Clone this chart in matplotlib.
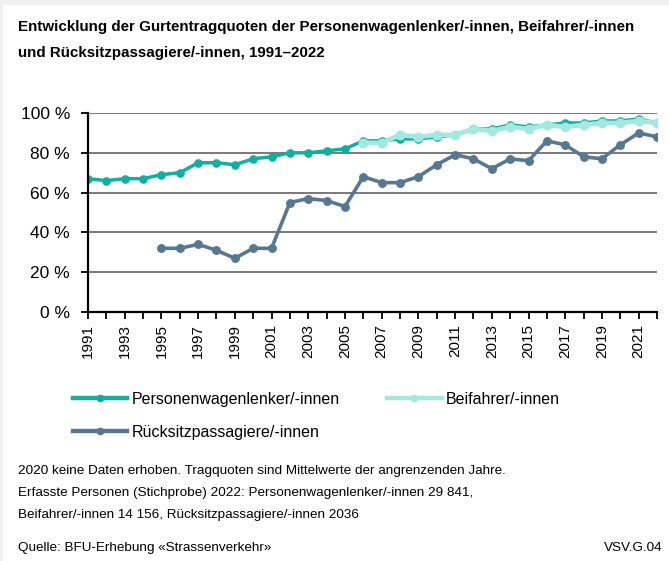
import matplotlib
matplotlib.use('Agg')
from matplotlib import pyplot as plt
from matplotlib import font_manager
from matplotlib.lines import Line2D
from matplotlib.patches import Rectangle

##########################################################################
#   Data
##########################################################################

years = list(range(1991, 2023))

driver = [67, 66, 67, 67, 69, 70, 75, 75, 74, 77, 78, 80, 80, 81, 82, 86,
          86, 87, 87, 88, 89, 92, 92, 94, 93, 94, 95, 95, 96, 96, 97, 95]

passenger_years = list(range(2006, 2023))
passenger = [85, 85, 89, 88, 89, 89, 92, 91, 93, 92, 94, 93, 94, 95, 95, 96, 95]

rear_years = list(range(1995, 2023))
rear = [32, 32, 34, 31, 27, 32, 32, 55, 57, 56, 53, 68, 65, 65, 68, 74,
        79, 77, 72, 77, 76, 86, 84, 78, 77, 84, 90, 88]

series_names = ['Personenwagenlenker/-innen', 'Beifahrer/-innen',
                'Rücksitzpassagiere/-innen']
y_ticks = [0, 20, 40, 60, 80, 100]

title_lines = ['Entwicklung der Gurtentragquoten der Personenwagenlenker/-innen, '
               'Beifahrer/-innen',
               'und Rücksitzpassagiere/-innen, 1991–2022']
notes = ['2020 keine Daten erhoben. Tragquoten sind Mittelwerte der angrenzenden Jahre.',
         'Erfasste Personen (Stichprobe) 2022: Personenwagenlenker/-innen 29 841,',
         'Beifahrer/-innen 14 156, Rücksitzpassagiere/-innen 2036']
source = 'Quelle: BFU-Erhebung «Strassenverkehr»'
code = 'VSV.G.04'

##########################################################################
#   Style
##########################################################################

TEAL = '#13ae9f'
LIGHT = '#a5e8e0'
SLATE = '#587890'
FONT = ['Liberation Sans', 'DejaVu Sans']

W, H = 669, 561


def fx(px):
    return px / W


def fy(px):
    return 1 - px / H

##########################################################################
#   Plot
##########################################################################

fig = plt.figure(figsize=(6.69, 5.61), dpi=100)
fig.patch.set_facecolor('#f0f0f0')
fig.patches.append(Rectangle((fx(3), 0), 1, fy(5), transform=fig.transFigure,
                             facecolor='white', edgecolor='none', zorder=-10))

ax = fig.add_axes([fx(88), fy(312), fx(657 - 88), (312 - 113) / H])
ax.set_facecolor('white')

ax.plot(years, driver, color=TEAL, lw=2.5, marker='o', ms=5.2, zorder=3)
ax.plot(passenger_years, passenger, color=LIGHT, lw=3.4, marker='o', ms=6.2, zorder=4)
ax.plot(rear_years, rear, color=SLATE, lw=2.6, marker='o', ms=5.4, zorder=5)

ax.set_xlim(1991, 2022)
ax.set_ylim(0, 100)
ax.set_yticks(y_ticks)
ax.set_yticklabels(['%d %%' % v for v in y_ticks], fontsize=12.5, family=FONT)
ax.set_xticks(years)
ax.set_xticklabels([str(y) if (y - 1991) % 2 == 0 else '' for y in years],
                   rotation=90, fontsize=11, family=FONT)
ax.tick_params(axis='both', direction='out', length=5, width=1.3, color='black')
ax.tick_params(axis='y', pad=8)
ax.grid(axis='y', color='#555555', lw=1.1)
ax.set_axisbelow(True)
for side in ['top', 'right']:
    ax.spines[side].set_visible(False)
for side in ['left', 'bottom']:
    ax.spines[side].set_linewidth(1.6)
    ax.spines[side].set_zorder(6)

# legend (order so that row 1 = driver, passenger; row 2 = rear)
handles = [Line2D([], [], color=c, lw=3.2, marker='o', ms=4.5)
           for c in [TEAL, LIGHT, SLATE]]
order = [0, 2, 1]
fig.legend([handles[i] for i in order], [series_names[i] for i in order],
           ncol=2, loc='upper left', bbox_to_anchor=(fx(73), fy(392)),
           frameon=False, borderpad=0, borderaxespad=0,
           handlelength=3.4, handletextpad=0.25,
           columnspacing=3.0, labelspacing=1.12,
           prop=font_manager.FontProperties(family=FONT, size=11.5))

fig.text(fx(18), fy(27), title_lines[0], fontsize=10.9, fontweight='bold',
         va='center', family=FONT)
fig.text(fx(18), fy(53), title_lines[1], fontsize=10.9, fontweight='bold',
         va='center', family=FONT)
for i, line in enumerate(notes):
    fig.text(fx(18), fy(471 + 22 * i), line, fontsize=9.7, va='center', family=FONT)
fig.text(fx(18), fy(548), source, fontsize=9.7, va='center', family=FONT)
fig.text(fx(663), fy(548), code, fontsize=9.7, va='center', ha='right', family=FONT)

fig.savefig('out.png', dpi=100, facecolor=fig.get_facecolor())
